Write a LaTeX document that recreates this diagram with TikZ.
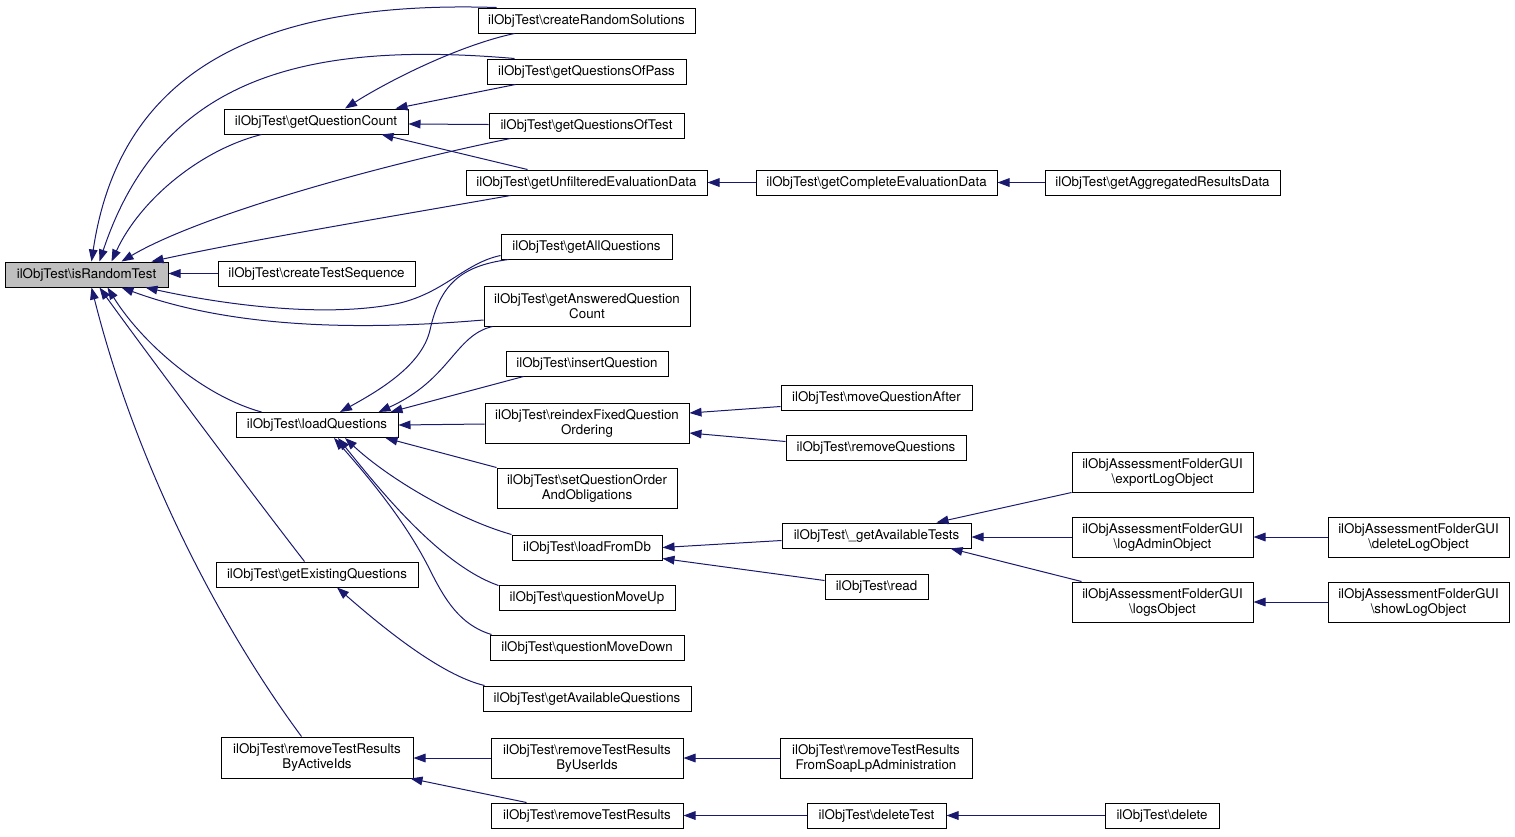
\documentclass[tikz,border=0pt]{standalone}
\usepackage{fontspec}
\setmainfont{TeX Gyre Heros}
\usetikzlibrary{arrows.meta,calc}
\definecolor{edgecol}{HTML}{191970}
\definecolor{hlfill}{HTML}{BFBFBF}
\newcommand{\bsl}{\textbackslash}
\begin{document}
\begin{tikzpicture}[x=0.75pt,y=-0.75pt,
  box/.style={draw=black,line width=0.75pt,inner sep=0pt,minimum height=18.75pt,
    font=\fontsize{10}{11.25}\selectfont,align=center,fill=white},
  bw/.style={minimum width=#1*0.75pt},
  tall/.style={minimum height=#1*0.75pt},
  edge/.style={draw=edgecol,line width=0.75pt,-{Triangle[length=9pt,width=6.5pt]}}
]
\useasboundingbox (0,0) rectangle (1515,836);

% column 1
\node[box,bw=163,fill=hlfill] (irt) at (86.5,274.5) {ilObjTest\bsl isRandomTest};
% column 2
\node[box,bw=184] (gqc) at (316,121.5) {ilObjTest\bsl getQuestionCount};
\node[box,bw=197] (cts) at (316.5,273.5) {ilObjTest\bsl createTestSequence};
\node[box,bw=162] (lq) at (317,425) {ilObjTest\bsl loadQuestions};
\node[box,bw=202] (geq) at (317,574.5) {ilObjTest\bsl getExistingQuestions};
\node[box,bw=192,tall=41] (rtrbai) at (317,757.5) {ilObjTest\bsl removeTestResults\\ByActiveIds};
% column 3
\node[box,bw=217] (crs) at (586.5,20.5) {ilObjTest\bsl createRandomSolutions};
\node[box,bw=199] (gqop) at (586.5,71.5) {ilObjTest\bsl getQuestionsOfPass};
\node[box,bw=195] (gqot) at (586.5,125.5) {ilObjTest\bsl getQuestionsOfTest};
\node[box,bw=241] (gued) at (586.5,182.5) {ilObjTest\bsl getUnfilteredEvaluationData};
\node[box,bw=171] (gaq) at (586.5,246.5) {ilObjTest\bsl getAllQuestions};
\node[box,bw=206,tall=40] (gaqc) at (587,306) {ilObjTest\bsl getAnsweredQuestion\\Count};
\node[box,bw=162] (iq) at (587,363.5) {ilObjTest\bsl insertQuestion};
\node[box,bw=204,tall=40] (rfqo) at (587,423) {ilObjTest\bsl reindexFixedQuestion\\Ordering};
\node[box,bw=180,tall=40] (sqoao) at (587,488) {ilObjTest\bsl setQuestionOrder\\AndObligations};
\node[box,bw=150] (lfdb) at (587,547.5) {ilObjTest\bsl loadFromDb};
\node[box,bw=176] (qmu) at (587,597.5) {ilObjTest\bsl questionMoveUp};
\node[box,bw=194] (qmd) at (587,647.5) {ilObjTest\bsl questionMoveDown};
\node[box,bw=208] (gavq) at (587,698.5) {ilObjTest\bsl getAvailableQuestions};
\node[box,bw=192,tall=40] (rtrbui) at (587,758) {ilObjTest\bsl removeTestResults\\ByUserIds};
\node[box,bw=192] (rtr) at (587,815.5) {ilObjTest\bsl removeTestResults};
% column 4
\node[box,bw=241] (gced) at (876.5,182.5) {ilObjTest\bsl getCompleteEvaluationData};
\node[box,bw=191] (mqa) at (876.5,397.5) {ilObjTest\bsl moveQuestionAfter};
\node[box,bw=180] (rq) at (876,447.5) {ilObjTest\bsl removeQuestions};
\node[box,bw=189] (gat) at (876.5,535.5) {ilObjTest\bsl\_getAvailableTests};
\node[box,bw=103] (rd) at (876.5,586.5) {ilObjTest\bsl read};
\node[box,bw=192,tall=40] (rtrfs) at (876,758) {ilObjTest\bsl removeTestResults\\FromSoapLpAdministration};
\node[box,bw=139] (dt) at (876.5,815.5) {ilObjTest\bsl deleteTest};
% column 5
\node[box,bw=235] (gard) at (1162.5,182.5) {ilObjTest\bsl getAggregatedResultsData};
\node[box,bw=181,tall=40] (elo) at (1162.5,472) {ilObjAssessmentFolderGUI\\\bsl exportLogObject};
\node[box,bw=181,tall=40] (lao) at (1162.5,537) {ilObjAssessmentFolderGUI\\\bsl logAdminObject};
\node[box,bw=181,tall=40] (lo) at (1162.5,602) {ilObjAssessmentFolderGUI\\\bsl logsObject};
\node[box,bw=114] (del) at (1162,815.5) {ilObjTest\bsl delete};
% column 6
\node[box,bw=181,tall=40] (dlo) at (1418.5,537) {ilObjAssessmentFolderGUI\\\bsl deleteLogObject};
\node[box,bw=181,tall=40] (slo) at (1418.5,602) {ilObjAssessmentFolderGUI\\\bsl showLogObject};

% edges into isRandomTest (top)
\draw[edge] ($(crs.north west)+(19,0)$) .. controls (260,0) and (120,70) .. ($(irt.north west)+(87,0)$);
\draw[edge] ($(gqop.north west)+(28,0)$) .. controls (300,40) and (160,80) .. ($(irt.north west)+(95,0)$);
\draw[edge] ($(gqc.south west)+(38,0)$) .. controls (200,150) and (140,200) .. ($(irt.north west)+(107,0)$);
\draw[edge] ($(gqot.south west)+(22,0)$) .. controls (380,165) and (200,215) .. ($(irt.north west)+(117,0)$);
\draw[edge] ($(gued.south west)+(45,0)$) .. controls (400,215) and (250,240) .. ($(irt.north west)+(147,0)$);
\draw[edge] (cts.west) -- ($(irt.east)+(0,-1)$);
% edges into isRandomTest (bottom)
\draw[edge] ($(gaq.west)+(0,9)$) .. controls (465,263) and (445,292) .. (400,303)
   .. controls (330,318) and (230,306) .. ($(irt.south west)+(141,0)$);
\draw[edge] ($(gaqc.west)+(0,14)$) .. controls (400,327) and (250,335) .. ($(irt.south west)+(117,0)$);
\draw[edge] ($(lq.north west)+(26,0)$) .. controls (200,395) and (140,340) .. ($(irt.south west)+(103,0)$);
\draw[edge] ($(geq.north west)+(89,0)$) .. controls (230,465) and (130,330) .. ($(irt.south west)+(95,0)$);
\draw[edge] ($(rtrbai.north west)+(81,0)$) .. controls (230,640) and (140,480) .. ($(irt.south west)+(87,0)$);

% edges into getQuestionCount
\draw[edge] ($(crs.south west)+(37,0)$) .. controls (460,45) and (390,80) .. ($(gqc.north)+(29,0)$);
\draw[edge] ($(gqop.south west)+(29,0)$) -- ($(gqc.north east)+(-13,0)$);
\draw[edge] ($(gqot.west)+(0,-1)$) -- ($(gqc.east)+(0,2.5)$);
\draw[edge] ($(gued.north west)+(62,0)$) -- ($(gqc.south east)+(-27,0)$);

% evaluation data chain
\draw[edge] (gced.west) -- (gued.east);
\draw[edge] (gard.west) -- (gced.east);

% edges into loadQuestions
\draw[edge] ($(gaq.south west)+(8,0)$) .. controls (460,266) and (440,285) .. (430,330)
   .. controls (422,365) and (380,390) .. ($(lq.north)+(23,0)$);
\draw[edge] ($(gaqc.south west)+(9,0)$) .. controls (455,335) and (450,380) .. ($(lq.north east)+(-20,0)$);
\draw[edge] ($(iq.south west)+(18,0)$) -- ($(lq.north east)+(-8,0)$);
\draw[edge] ($(rfqo.west)+(0,1)$) -- (lq.east);
\draw[edge] (sqoao.north west) -- ($(lq.south east)+(-13,0)$);
\draw[edge] (lfdb.north west) .. controls (460,520) and (390,480) .. ($(lq.south)+(28,0)$);
\draw[edge] ($(qmu.north west)+(0,1)$) .. controls (440,565) and (380,490) .. ($(lq.south)+(21,0)$);
\draw[edge] ($(qmd.north west)+(2,0)$) .. controls (460,625) and (445,600) .. (430,570)
   .. controls (410,530) and (380,490) .. ($(lq.south)+(17,0)$);

% getExistingQuestions
\draw[edge] ($(gavq.north west)+(2,0)$) .. controls (440,675) and (380,625) .. ($(geq.south)+(20,0)$);

% reindex
\draw[edge] ($(mqa.west)+(0,9)$) -- ($(rfqo.east)+(0,-10)$);
\draw[edge] ($(rq.west)+(0,-6)$) -- ($(rfqo.east)+(0,10)$);

% loadFromDb
\draw[edge] ($(gat.west)+(0,5)$) -- (lfdb.east);
\draw[edge] ($(rd.west)+(0,-6)$) -- ($(lfdb.east)+(0,11)$);

% _getAvailableTests
\draw[edge] (elo.south west) -- ($(gat.north)+(60,0)$);
\draw[edge] (lao.west) -- ($(gat.east)+(0,1.5)$);
\draw[edge] ($(lo.north west)+(10,0)$) -- ($(gat.south)+(74,0)$);
\draw[edge] (dlo.west) -- (lao.east);
\draw[edge] (slo.west) -- (lo.east);

% removeTestResults
\draw[edge] (rtrbui.west) -- ($(rtrbai.east)+(0,0.5)$);
\draw[edge] ($(rtr.north west)+(36,0)$) -- ($(rtrbai.south east)+(-3,0)$);
\draw[edge] (rtrfs.west) -- (rtrbui.east);
\draw[edge] (dt.west) -- (rtr.east);
\draw[edge] (del.west) -- (dt.east);
\end{tikzpicture}
\end{document}
